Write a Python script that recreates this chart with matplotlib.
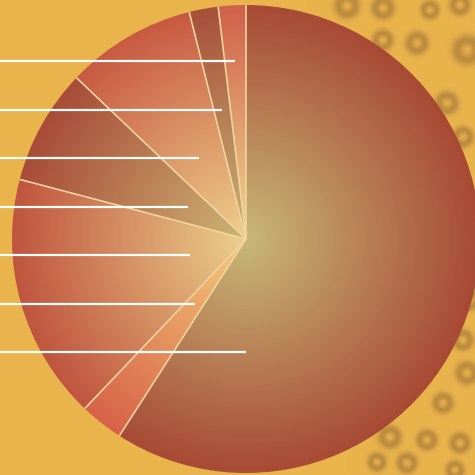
import numpy as np
import matplotlib
matplotlib.use("Agg")
import matplotlib.pyplot as plt
from matplotlib.colors import to_rgb

# ---- data (slice shares, counter-clockwise from 12 o'clock) ----
shares = [1.9, 2.0, 9.0, 8.0, 17.0, 3.0, 59.1]
edge_colors = ["#d0604a", "#a8503a", "#c85a42", "#a84c38", "#c0553f", "#d86248", "#a84a35"]
center_colors = ["#f0d890", "#c8b474", "#eed08c", "#cdb474", "#ecd08c", "#f5cc7c", "#c8b878"]

# ---- layout ----
W = H = 475
cx, cy, R = 246, 475 - 239, 234
row_top, row_step = 475 - 61, 48.5
bg_color = "#e9b44c"
# decorative background bubble rings (pixel x, pixel y, radius)
rings = [(347, 6, 12), (383, 8, 11), (383, 40, 10), (417, 43, 11), (467, 50, 14),
         (447, 103, 11), (463, 137, 10), (430, 10, 9), (460, 5, 10),
         (463, 340, 10), (467, 373, 11), (443, 403, 10), (390, 437, 11), (427, 440, 10),
         (460, 443, 10), (407, 463, 10), (377, 462, 9), (470, 300, 10), (455, 470, 9)]

fig = plt.figure(figsize=(4.75, 4.75), dpi=100)
ax = fig.add_axes([0, 0, 1, 1])
ax.set_xlim(0, W)
ax.set_ylim(0, H)
ax.axis("off")

# background texture
yy, xx = np.mgrid[0:H, 0:W] + 0.5
bg = np.ones((H, W, 3)) * np.array(to_rgb(bg_color))
dark = np.array(to_rgb("#9a6a34"))
for rx, ry, rr in rings:
    d = np.hypot(xx - rx, yy - ry)
    a = 0.55 * np.exp(-((d - rr * 0.7) / (rr * 0.45)) ** 2)
    bg = bg * (1 - a[..., None]) + dark * a[..., None]
ax.imshow(bg, extent=(0, W, 0, H), origin="upper", zorder=0, interpolation="bilinear")

wedges, _ = ax.pie(shares, startangle=90, counterclock=True, center=(cx, cy), radius=R,
                   colors=["none"] * len(shares),
                   wedgeprops=dict(edgecolor="none", linewidth=0, zorder=3))
ax.set_xlim(0, W)
ax.set_ylim(0, H)
ax.set_aspect("auto")

# radial gradient fill per wedge
N = 400
gy, gx = np.mgrid[-1:1:N * 1j, -1:1:N * 1j]
t = np.clip(np.hypot(gx, gy), 0, 1)[..., None]
for w, c0, c1 in zip(wedges, center_colors, edge_colors):
    img = np.array(to_rgb(c0)) * (1 - t) + np.array(to_rgb(c1)) * t
    im = ax.imshow(img, extent=(cx - R, cx + R, cy - R, cy + R), origin="lower",
                   zorder=2, interpolation="bilinear")
    im.set_clip_path(w)

# slice separators (radial only)
cum = np.cumsum([0] + shares)
total = cum[-1]
for c in cum[:-1]:
    a = np.deg2rad(90 + 360 * c / total)
    ax.plot([cx, cx + R * np.cos(a)], [cy, cy + R * np.sin(a)], color="#f0d4a0",
            linewidth=1.2, zorder=3, solid_capstyle="butt")

# leader lines (labels lie outside the visible canvas)
for i in range(len(shares)):
    mid = np.deg2rad(90 + 360 * (cum[i] + cum[i + 1]) / 2 / total)
    y = row_top - i * row_step
    dy = y - cy
    if np.cos(mid) < 0 and abs(np.sin(mid)) > 1e-6 and np.sign(np.sin(mid)) == np.sign(dy):
        xend = cx + dy * np.cos(mid) / np.sin(mid)
    else:
        xend = cx
    ax.plot([0, xend], [y, y], color="white", linewidth=1.6, zorder=4, solid_capstyle="butt")

fig.savefig("out.png", dpi=100)
